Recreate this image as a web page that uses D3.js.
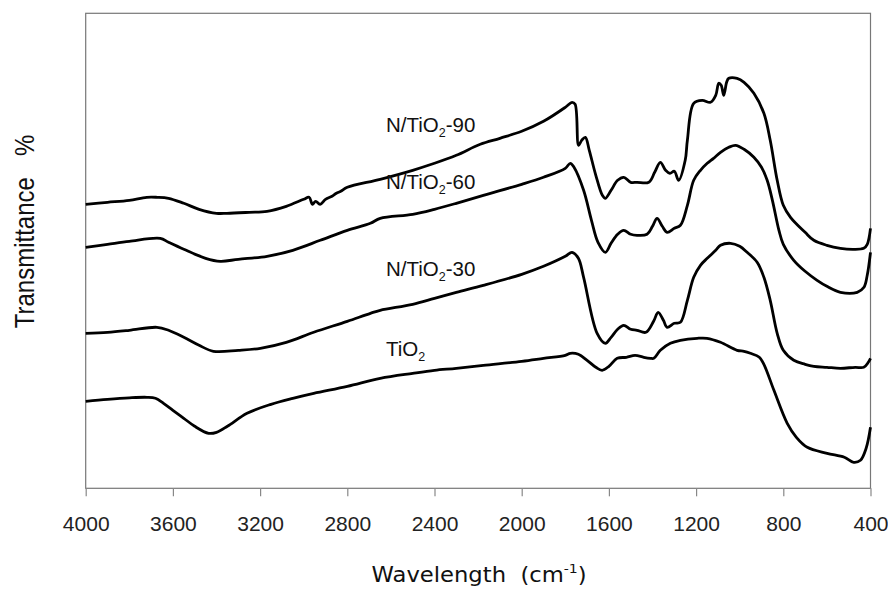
<!DOCTYPE html>
<html>
<head>
<meta charset="utf-8">
<script src="https://cdn.jsdelivr.net/npm/d3@7"></script>
<style>
  body { margin: 0; background: #fff; }
  svg { display: block; font-family: "Liberation Sans", Arial, sans-serif; }
</style>
</head>
<body>
<div id="chart"></div>
<script>
// FTIR spectra, [wavenumber (cm-1), transmittance (arb. units, curves offset)]
const n90 = [
  [4000,284],[3900,286],[3800,288],[3720,291],[3673,291],[3620,290],[3550,285],[3480,279],
  [3400,275],[3352,275],[3250,276],[3168,277],[3080,282],[3000,289],[2975,291],[2960,284],
  [2945,287],[2925,284],[2900,289],[2870,292],[2850,295],[2830,297],[2800,301],[2649,309],
  [2500,318],[2400,325],[2300,333],[2190,344],[2100,350],[2000,357],[1900,367],[1800,381],
  [1769,386],[1755,384],[1739,343],[1725,348],[1708,351],[1690,338],[1660,313],[1630,293],
  [1616,290],[1590,298],[1560,308],[1532,311],[1500,306],[1471,306],[1417,306],[1390,316],
  [1364,326],[1340,318],[1320,315],[1300,317],[1280,308],[1250,328],[1240,348],[1211,385],
  [1172,388],[1134,386],[1110,393],[1096,405],[1085,403],[1073,393],[1060,406],[1050,410],
  [1012,410],[980,406],[935,395],[889,375],[860,348],[828,308],[800,283],[767,271],
  [700,256],[660,248],[600,243],[538,240],[480,239],[431,240],[415,244],[400,260]
];
const n60 = [
  [4000,241],[3900,244],[3800,247],[3658,250],[3620,246],[3550,239],[3450,230],[3383,227],
  [3300,229],[3168,232],[3050,238],[2924,248],[2800,258],[2694,265],[2649,270],[2500,274],
  [2400,279],[2300,285],[2176,293],[2000,304],[1900,311],[1800,320],[1777,325],[1760,321],
  [1716,298],[1680,268],[1650,246],[1616,236],[1590,245],[1560,254],[1532,258],[1500,254],
  [1471,253],[1425,254],[1400,262],[1379,270],[1355,262],[1333,256],[1300,260],[1272,263],
  [1240,283],[1211,308],[1180,318],[1149,325],[1120,330],[1088,336],[1050,341],[1019,343],
  [980,339],[935,331],[900,321],[874,308],[850,288],[820,258],[800,244],[752,228],
  [700,217],[645,208],[600,202],[538,196],[461,196],[430,201],[415,213],[400,236]
];
const n30 = [
  [4000,155],[3900,156],[3800,158],[3673,161],[3620,158],[3550,151],[3480,143],[3414,137],
  [3300,138],[3199,140],[3080,146],[2954,156],[2800,167],[2694,175],[2649,178],[2500,184],
  [2400,190],[2300,196],[2176,203],[2000,214],[1900,222],[1800,232],[1769,236],[1740,230],
  [1716,211],[1654,155],[1616,145],[1590,151],[1560,159],[1532,163],[1500,159],[1471,158],
  [1430,156],[1395,167],[1374,176],[1350,168],[1333,161],[1300,165],[1272,166],[1240,188],
  [1211,211],[1180,223],[1149,230],[1110,238],[1088,243],[1042,245],[1000,242],[966,236],
  [920,226],[889,211],[860,188],[828,155],[800,138],[752,128],[700,124],[660,122],
  [600,121],[538,120],[470,121],[431,121],[410,126],[400,130]
];
const tio2 = [
  [4000,87],[3900,89],[3800,90.5],[3719,91],[3680,90],[3643,85],[3600,78],[3550,70],
  [3500,62],[3436,55],[3400,56],[3350,62],[3260,75],[3150,84],[3050,90],[2954,95],
  [2800,102],[2649,110],[2500,115],[2400,118],[2300,120],[2176,123],[2000,127],[1900,130],
  [1800,133],[1777,135],[1740,134],[1700,128],[1660,121],[1631,118],[1600,122],[1562,130],
  [1520,131],[1480,133],[1440,131],[1409,130],[1394,130],[1364,138],[1318,145],[1272,148],
  [1195,150],[1150,150],[1088,146],[1012,138],[980,137],[951,135],[910,131],[889,124],
  [843,98],[782,65],[740,51],[690,41],[599,35],[520,31],[477,26],[446,28],[420,40],[400,61]
];

const seriesNames = ["N/TiO2-90", "N/TiO2-60", "N/TiO2-30", "TiO2"];
const xTicks = [4000, 3600, 3200, 2800, 2400, 2000, 1600, 1200, 800, 400];

const width = 888, height = 593;
const margin = {left: 85.7, right: 870.5, top: 13.3, bottom: 488.3};

const svg = d3.select("#chart").append("svg")
    .attr("width", width)
    .attr("height", height);

const x = d3.scaleLinear().domain([4000, 400]).range([margin.left, margin.right]);
const y = d3.scaleLinear().domain([0, 475]).range([margin.bottom, margin.top]);

// frame
svg.append("rect")
    .attr("x", margin.left).attr("y", margin.top)
    .attr("width", margin.right - margin.left).attr("height", margin.bottom - margin.top)
    .attr("fill", "none")
    .attr("stroke", "#777")
    .attr("stroke-width", 1.2);

// x axis
svg.append("g")
    .attr("transform", `translate(0,${margin.bottom})`)
    .call(d3.axisBottom(x).tickValues(xTicks).tickFormat(d3.format("d"))
      .tickSizeInner(8).tickSizeOuter(0).tickPadding(19.5))
    .call(g => g.select(".domain").remove())
    .call(g => g.selectAll(".tick line").attr("stroke", "#888").attr("stroke-width", 1.2))
    .call(g => g.selectAll(".tick text")
      .attr("fill", "#222")
      .attr("font-size", 21)
      .attr("font-family", "Liberation Sans, Arial, sans-serif"));

// spectra
const line = d3.line()
    .x(d => x(d[0]))
    .y(d => y(d[1]))
    .curve(d3.curveCatmullRom.alpha(0.5));

svg.append("g")
  .selectAll("path")
  .data([n90, n60, n30, tio2])
  .join("path")
    .attr("d", line)
    .attr("fill", "none")
    .attr("stroke", "#000")
    .attr("stroke-width", 2.8)
    .attr("stroke-linejoin", "round");

// curve labels
const labelY = [131.7, 188.5, 276, 356];
const lab = svg.append("g")
    .attr("font-size", 20.5)
    .attr("fill", "#111");
seriesNames.forEach((name, i) => {
  const t = lab.append("text").attr("x", 386).attr("y", labelY[i]);
  const [head, tail] = name.split("2");
  t.append("tspan").text(head);
  t.append("tspan").attr("font-size", 12.5).attr("dy", 5).text("2");
  if (tail) t.append("tspan").attr("dy", -5).text(tail);
});

// axis titles
const xt = svg.append("text")
    .attr("transform", `translate(${(margin.left + margin.right) / 2 + 1},581.7) scale(1.08,1)`)
    .attr("text-anchor", "middle")
    .attr("font-family", "DejaVu Sans, sans-serif")
    .attr("font-size", 21)
    .attr("fill", "#111")
    .style("white-space", "pre");
xt.append("tspan").text("Wavelength  (cm");
xt.append("tspan").attr("font-size", 13).attr("dy", -9).text("-1");
xt.append("tspan").attr("dy", 9).text(")");

const yt = svg.append("text")
    .attr("transform", "translate(34,231.5) rotate(-90) scale(1,1.15)")
    .attr("text-anchor", "middle")
    .attr("font-size", 24)
    .attr("fill", "#111");
yt.append("tspan").text("Transmittance");
yt.append("tspan").attr("dx", 21).text("%");
</script>
</body>
</html>
